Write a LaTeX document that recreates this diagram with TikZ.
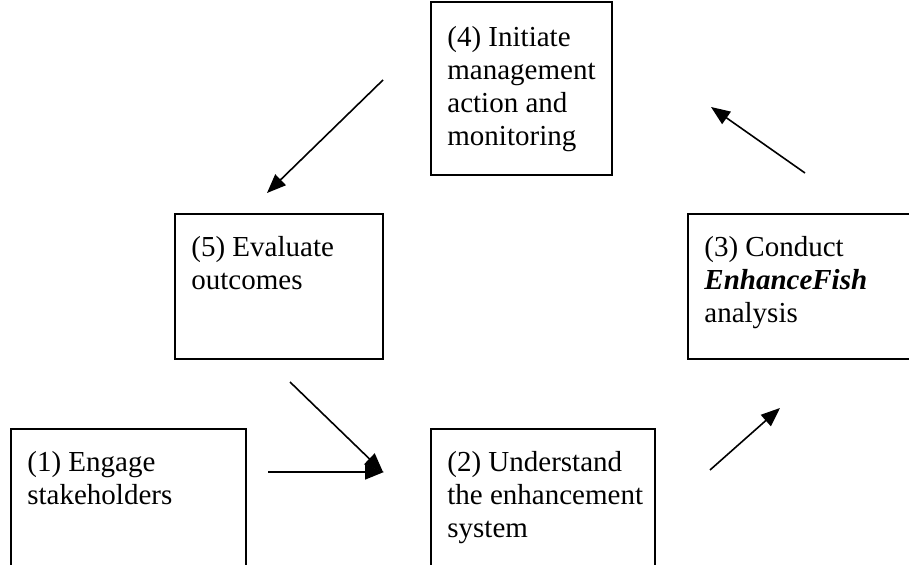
\documentclass[tikz,border=0pt]{standalone}
\usepackage{fontspec}
\setmainfont{Liberation Serif}
\usetikzlibrary{arrows.meta}
\tikzset{
  stage/.style={draw, line width=1pt, inner sep=0pt, anchor=north west},
  stagetext/.style={anchor=north west, align=left, inner sep=0pt,
    font=\fontsize{14.5}{16.5}\selectfont},
  flow/.style={line width=0.8pt, -{Triangle[length=9.5pt,width=7.5pt]}}
}
\begin{document}
\begin{tikzpicture}[x=0.5pt,y=-0.5pt]
    \clip (0,0) rectangle (909,565);
    % boxes
    \node[stage, minimum width=90.5pt, minimum height=86.5pt] (b4) at (430,1) {};
    \node[stage, minimum width=104pt, minimum height=72.5pt] (b5) at (174,213) {};
    \node[stage, minimum width=120pt, minimum height=72.5pt] (b3) at (687,213) {};
    \node[stage, minimum width=117.5pt, minimum height=80pt] (b1) at (10,428) {};
    \node[stage, minimum width=112pt, minimum height=80pt] (b2) at (430,428) {};
    % texts
    \node[stagetext] (t4) at ([xshift=8.5pt,yshift=-12.5pt]b4.north west)
      {(4) Initiate\\management\\action and\\monitoring};
    \node[stagetext] (t5) at ([xshift=8.5pt,yshift=-11.5pt]b5.north west)
      {(5) Evaluate\\outcomes};
    \node[stagetext] (t3) at ([xshift=8.5pt,yshift=-11.5pt]b3.north west)
      {(3) Conduct\\\textbf{\textit{EnhanceFish}}\\analysis};
    \node[stagetext] (t1) at ([xshift=8.5pt,yshift=-11.5pt]b1.north west)
      {(1) Engage\\stakeholders};
    \node[stagetext] (t2) at ([xshift=8.5pt,yshift=-11.5pt]b2.north west)
      {(2) Understand\\the enhancement\\system};
    % arrows
    \coordinate (a1) at (268,472); \coordinate (a2) at (384,472);
    \coordinate (a3) at (290,382); \coordinate (a4) at (383,472);
    \coordinate (a5) at (710,470); \coordinate (a6) at (780,408);
    \coordinate (a7) at (805,173); \coordinate (a8) at (711,107);
    \coordinate (a9) at (383,80);  \coordinate (a10) at (267,193);
    \draw[flow] (a1)--(a2);
    \draw[flow] (a3)--(a4);
    \draw[flow] (a5)--(a6);
    \draw[flow] (a7)--(a8);
    \draw[flow] (a9)--(a10);
\end{tikzpicture}
\end{document}
